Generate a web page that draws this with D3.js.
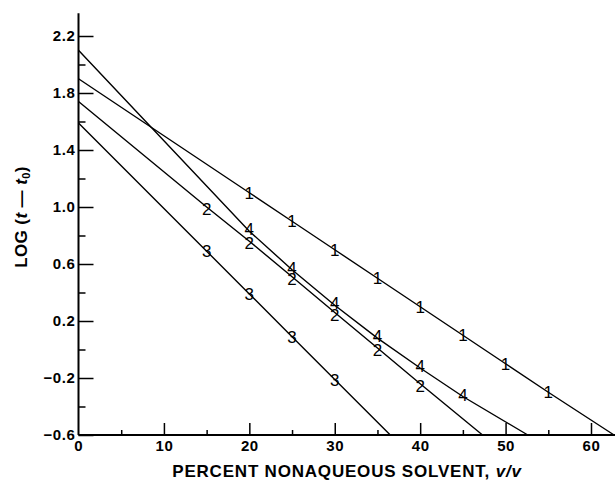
<!DOCTYPE html>
<html>
<head>
<meta charset="utf-8">
<script src="https://cdn.jsdelivr.net/npm/d3@7"></script>
<style>
  html, body { margin: 0; padding: 0; background: #fff; }
  svg { display: block; }
  .tick text { font-family: "Liberation Sans", Arial, sans-serif; font-weight: bold; font-size: 15px; letter-spacing: 0.6px; fill: #000; }
  .tick line { stroke: #000; stroke-width: 1.5; }
</style>
</head>
<body>
<svg id="chart" width="615" height="481"></svg>
<script>
// Percent nonaqueous solvent (v/v) vs LOG(t - t0), four solvent systems.
// Each line runs from its intercept at 0 % through the measured points
// down to where it meets the bottom of the plot.
const series1X = [20, 25, 30, 35, 40, 45, 50, 55];
const series1Y = [1.10, 0.90, 0.70, 0.50, 0.30, 0.10, -0.10, -0.30];
const series1Line = [[0, 1.90], [62.7, -0.60]];

const series2X = [15, 20, 25, 30, 35, 40];
const series2Y = [1.00, 0.76, 0.51, 0.26, 0.01, -0.24];
const series2Line = [[0, 1.74], [47.3, -0.60]];

const series3X = [15, 20, 25, 30];
const series3Y = [0.69, 0.39, 0.09, -0.21];
const series3Line = [[0, 1.59], [36.5, -0.60]];

const series4X = [20, 25, 30, 35, 40, 45];
const series4Y = [0.83, 0.56, 0.31, 0.08, -0.13, -0.33];
const series4Line = [[0, 2.10], [52.6, -0.60]];

const seriesNames = ["1", "2", "3", "4"];
const xMajorTicks = [0, 10, 20, 30, 40, 50, 60];
const xMinorTicks = [5, 15, 25, 35, 45, 55];
const yMajorTicks = [-0.6, -0.2, 0.2, 0.6, 1.0, 1.4, 1.8, 2.2];
const yMinorTicks = [-0.4, 0.0, 0.4, 0.8, 1.2, 1.6, 2.0];
const xTitle = "PERCENT NONAQUEOUS SOLVENT, ";
const xTitleItalic = "v/v";

const svg = d3.select("#chart");
const x = d3.scaleLinear().domain([0, 60]).range([78.5, 591]);
const y = d3.scaleLinear().domain([-0.6, 2.2]).range([435, 36]);
const xEnd = 62.85, yTop = 2.36;

// minor ticks
svg.append("g").attr("transform", `translate(${x(0)},0)`)
  .call(d3.axisLeft(y).tickValues(yMinorTicks).tickSize(-7).tickFormat(""))
  .call(g => g.select(".domain").remove());
svg.append("g").attr("transform", `translate(0,${y(-0.6)})`)
  .call(d3.axisBottom(x).tickValues(xMinorTicks).tickSize(-5).tickFormat(""))
  .call(g => g.select(".domain").remove());

// major ticks with labels
svg.append("g").attr("transform", `translate(${x(0)},0)`)
  .call(d3.axisLeft(y).tickValues(yMajorTicks).tickSize(-15).tickPadding(3).tickFormat(d3.format(".1f")))
  .call(g => g.select(".domain").remove());
svg.append("g").attr("transform", `translate(0,${y(-0.6)})`)
  .call(d3.axisBottom(x).tickValues(xMajorTicks.filter(d => d > 0)).tickSize(-12).tickPadding(5).tickFormat(d3.format("d")))
  .call(g => g.select(".domain").remove());
svg.append("text")
  .attr("x", x(0)).attr("y", y(-0.6) + 5).attr("dy", "0.71em")
  .attr("text-anchor", "middle")
  .style("font-family", "Liberation Sans, Arial, sans-serif")
  .style("font-weight", "bold").style("font-size", "15px")
  .text(xMajorTicks[0]);

// axis lines
svg.append("line")
  .attr("x1", x(0)).attr("x2", x(0)).attr("y1", y(yTop)).attr("y2", y(-0.6))
  .attr("stroke", "#000").attr("stroke-width", 2);
svg.append("line")
  .attr("x1", x(0)).attr("x2", x(xEnd)).attr("y1", y(-0.6)).attr("y2", y(-0.6))
  .attr("stroke", "#000").attr("stroke-width", 2);

// series lines and numbered markers
const allSeries = [
  { name: seriesNames[0], xs: series1X, ys: series1Y, ends: series1Line, shift: 0 },
  { name: seriesNames[1], xs: series2X, ys: series2Y, ends: series2Line, shift: 2 },
  { name: seriesNames[2], xs: series3X, ys: series3Y, ends: series3Line, shift: 0 },
  { name: seriesNames[3], xs: series4X, ys: series4Y, ends: series4Line, shift: -2 }
];
const line = d3.line().x(d => x(d[0])).y(d => y(d[1]));

allSeries.forEach(s => {
  const pts = s.xs.map((v, i) => [v, s.ys[i]]);
  const path = [s.ends[0], ...pts, s.ends[1]];
  svg.append("path")
    .attr("d", line(path))
    .attr("fill", "none").attr("stroke", "#000").attr("stroke-width", 1.4);
  svg.append("g").selectAll("text").data(pts).join("text")
    .attr("x", d => x(d[0])).attr("y", d => y(d[1]) + s.shift)
    .attr("dy", "0.36em")
    .attr("text-anchor", "middle")
    .style("font-family", "Liberation Sans Narrow, Liberation Sans, Arial, sans-serif")
    .style("font-size", "17px").style("fill", "#000")
    .text(s.name);
});

// axis titles
const xt = svg.append("text")
  .attr("x", 347).attr("y", 477)
  .attr("text-anchor", "middle")
  .style("font-family", "Liberation Sans, Arial, sans-serif")
  .style("font-weight", "bold").style("font-size", "17px")
  .style("letter-spacing", "0.8px");
xt.append("tspan").text(xTitle);
xt.append("tspan").style("font-style", "italic").text(xTitleItalic);

const yt = svg.append("text")
  .attr("transform", "translate(27,217) rotate(-90)")
  .attr("text-anchor", "middle")
  .style("font-family", "Liberation Sans, Arial, sans-serif")
  .style("font-weight", "bold").style("font-size", "17px")
  .style("letter-spacing", "0.4px");
yt.append("tspan").text("LOG (");
yt.append("tspan").style("font-style", "italic").text("t");
yt.append("tspan").text(" \u2014 ");
yt.append("tspan").style("font-style", "italic").text("t");
yt.append("tspan").attr("dy", 3).style("font-size", "11px").text("0");
yt.append("tspan").attr("dy", -3).text(")");
</script>
</body>
</html>
